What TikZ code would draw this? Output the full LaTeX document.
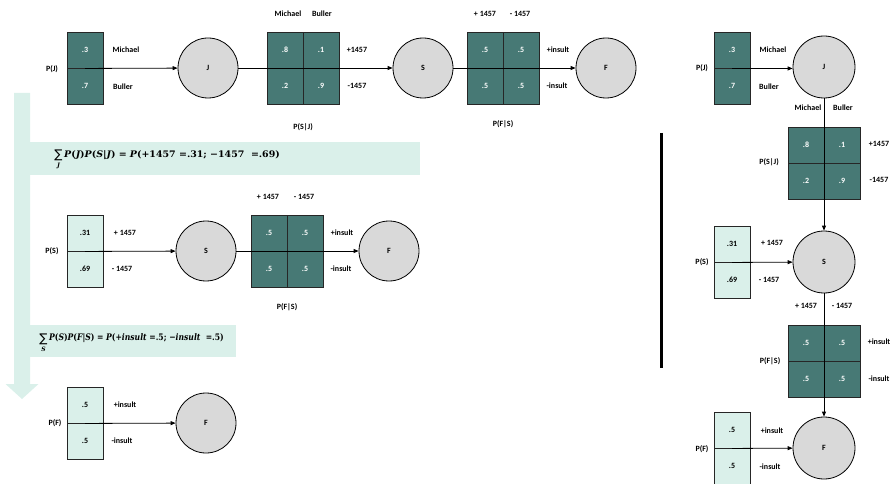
\documentclass[tikz,border=0pt]{standalone}
\usepackage{fontspec}
\usepackage{graphicx}
\setmainfont{Carlito}
\newfontfamily\dvserif{DejaVu Serif}
\newfontfamily\dvsans{DejaVu Sans}
\usetikzlibrary{arrows.meta}
\definecolor{dteal}{RGB}{71,121,117}
\definecolor{lgreen}{RGB}{218,240,234}
\definecolor{cgray}{RGB}{217,217,217}
\newcommand{\vi}[1]{{\itshape #1}}
\newcommand{\myformA}{\vi{P}(\vi{J})\vi{P}(\vi{S}|\vi{J}) = \vi{P}(+1457 =.31{;} −1457 \ =.69)}
\newcommand{\myformB}{\vi{P}(\vi{S})\vi{P}(\vi{F}|\vi{S}) = \vi{P}(+\vi{insult} =.5{;} −\vi{insult} \ =.5)}
\tikzset{
  lblf/.style={font=\fontsize{8}{9.6}\selectfont\bfseries, inner sep=0pt},
  dk/.style={draw=black!85, line width=0.9pt, fill=dteal, minimum width=36pt, minimum height=36pt, inner sep=0pt, text=white, font=\fontsize{8}{9.6}\selectfont\bfseries},
  lt/.style={dk, fill=lgreen, text=black},
  circ/.style={circle, draw=black, line width=0.8pt, fill=cgray, minimum size=60pt, inner sep=0pt, font=\fontsize{8}{9.6}\selectfont\bfseries},
  conn/.style={-{Triangle[length=5pt,width=4pt]}, line width=0.8pt},
  mathtxt/.style={anchor=west, inner sep=0pt, font=\dvserif\bfseries\fontsize{9}{11}\selectfont},
  sumsign/.style={inner sep=0pt, font=\dvsans\fontsize{12}{13}\selectfont},
  sumsub/.style={inner sep=0pt, font=\dvserif\bfseries\itshape\fontsize{6}{7}\selectfont}
}
\begin{document}
\begin{tikzpicture}[x=1pt,y=-1pt]
\useasboundingbox (0,0) rectangle (892,484);

% big light arrow and formula boxes
\fill[lgreen] (14,93) -- (30,93) -- (30,384) -- (38.5,384) -- (22,399) -- (5.5,384) -- (14,384) -- cycle;
\fill[lgreen] (30,142) rectangle (420,175);
\fill[lgreen] (30,325) rectangle (236,357);

% ---------- top row ----------
\node[dk] (pj1) at (85,50) {.3};
\node[dk] (pj2) at (85,86) {.7};
\node[lblf] (pjl) at (52,69) {P(J)};
\node[lblf] (pjm) at (126,50) {Michael};
\node[lblf] (pjb) at (123,87) {Buller};
\node[circ] (J) at (208,68) {J};

\node[dk] (psj11) at (285,50) {.8};
\node[dk] (psj12) at (321,50) {.1};
\node[dk] (psj21) at (285,86) {.2};
\node[dk] (psj22) at (321,86) {.9};
\node[lblf] (psjc1) at (288,14) {Michael};
\node[lblf] (psjc2) at (322,14) {Buller};
\node[lblf] (psjr1) at (357,50) {+1457};
\node[lblf] (psjr2) at (357,86) {-1457};
\node[lblf] (psjl) at (303,127) {P(S|J)};
\node[circ] (S) at (423,68) {S};

\node[dk] (pfs11) at (485,50) {.5};
\node[dk] (pfs12) at (521,50) {.5};
\node[dk] (pfs21) at (485,86) {.5};
\node[dk] (pfs22) at (521,86) {.5};
\node[lblf] (pfsc1) at (485,14) {+ 1457};
\node[lblf] (pfsc2) at (520,14) {- 1457};
\node[lblf] (pfsr1) at (558,50) {+insult};
\node[lblf] (pfsr2) at (557,86) {-insult};
\node[lblf] (pfsl) at (503,124) {P(F|S)};
\node[circ] (F) at (606,68) {F};

\draw[conn] (pj1.south) -- (J);
\draw[conn] (J) -- (S);
\draw[conn] (S) -- (F);

% ---------- middle row ----------
\node[lt] (ps1) at (85,233) {.31};
\node[lt] (ps2) at (85,269) {.69};
\node[lblf] (psl) at (52,251) {P(S)};
\node[lblf] (psp) at (125,233) {+ 1457};
\node[lblf] (psm) at (122,269) {- 1457};
\node[circ] (S2) at (206,251) {S};

\node[dk] (qfs11) at (269,233) {.5};
\node[dk] (qfs12) at (305,233) {.5};
\node[dk] (qfs21) at (269,269) {.5};
\node[dk] (qfs22) at (305,269) {.5};
\node[lblf] (qfsc1) at (268,197) {+ 1457};
\node[lblf] (qfsc2) at (304,197) {- 1457};
\node[lblf] (qfsr1) at (342,233) {+insult};
\node[lblf] (qfsr2) at (341,269) {-insult};
\node[lblf] (qfsl) at (287,307) {P(F|S)};
\node[circ] (F2) at (389,251) {F};

\draw[conn] (ps1.south) -- (S2);
\draw[conn] (S2) -- (F2);

% ---------- bottom row ----------
\node[lt] (pf1) at (85,405) {.5};
\node[lt] (pf2) at (85,441) {.5};
\node[lblf] (pfl) at (55,423) {P(F)};
\node[lblf] (pfp) at (125,405) {+insult};
\node[lblf] (pfm) at (122,441) {-insult};
\node[circ] (F3) at (206,423) {F};
\draw[conn] (pf1.south) -- (F3);

% separator
\draw[line width=3pt] (661.5,133) -- (661.5,368);

% ---------- right column ----------
\node[dk] (rj1) at (732,50) {.3};
\node[dk] (rj2) at (732,86) {.7};
\node[lblf] (rjl) at (702,68) {P(J)};
\node[lblf] (rjm) at (773,50) {Michael};
\node[lblf] (rjb) at (769,87) {Buller};
\node[circ, minimum size=62pt] (Jr) at (824,67) {J};

\node[dk] (rsj11) at (806,145) {.8};
\node[dk] (rsj12) at (842,145) {.1};
\node[dk] (rsj21) at (806,181) {.2};
\node[dk] (rsj22) at (842,181) {.9};
\node[lblf] (rsjc1) at (808,108) {Michael};
\node[lblf] (rsjc2) at (843,108) {Buller};
\node[lblf] (rsjr1) at (879,144) {+1457};
\node[lblf] (rsjr2) at (879,180) {-1457};
\node[lblf] (rsjl) at (769,162) {P(S|J)};

\node[lt] (rs1) at (732,244) {.31};
\node[lt] (rs2) at (732,280) {.69};
\node[lblf] (rsl) at (702,262) {P(S)};
\node[lblf] (rsp) at (772,243) {+ 1457};
\node[lblf] (rsm) at (769,280) {- 1457};
\node[circ, minimum size=62pt] (Sr) at (824,262) {S};

\node[dk] (rfs11) at (806,343) {.5};
\node[dk] (rfs12) at (842,343) {.5};
\node[dk] (rfs21) at (806,379) {.5};
\node[dk] (rfs22) at (842,379) {.5};
\node[lblf] (rfsc1) at (806,306) {+ 1457};
\node[lblf] (rfsc2) at (842,306) {- 1457};
\node[lblf] (rfsr1) at (879,342) {+insult};
\node[lblf] (rfsr2) at (879,379) {-insult};
\node[lblf] (rfsl) at (770,361) {P(F|S)};

\node[lt] (rf1) at (732,430) {.5};
\node[lt] (rf2) at (732,466) {.5};
\node[lblf] (rfl) at (702,449) {P(F)};
\node[lblf] (rfp) at (772,431) {+insult};
\node[lblf] (rfm) at (770,467) {-insult};
\node[circ, minimum size=62pt] (Fr) at (824,448) {F};

\draw[conn] (rj1.south) -- (Jr.west |- rj1.south);
\draw[conn] (Jr) -- (Sr);
\draw[conn] (rs1.south) -- (Sr);
\draw[conn] (Sr) -- (Fr);
\draw[conn] (rf1.south) -- (Fr);

% formulas
\node[sumsign] (s1) at (58.5,155.5) {∑};
\node[sumsub] (s1b) at (58.5,166) {J};
\node[mathtxt] (f1) at (64,155) {\scalebox{1.05}[1]{\myformA}};
\node[sumsign] (s2) at (43.5,339) {∑};
\node[sumsub] (s2b) at (43.5,349.5) {S};
\node[mathtxt] (f2) at (49,338) {\scalebox{0.85}[1]{\myformB}};
\end{tikzpicture}
\end{document}
